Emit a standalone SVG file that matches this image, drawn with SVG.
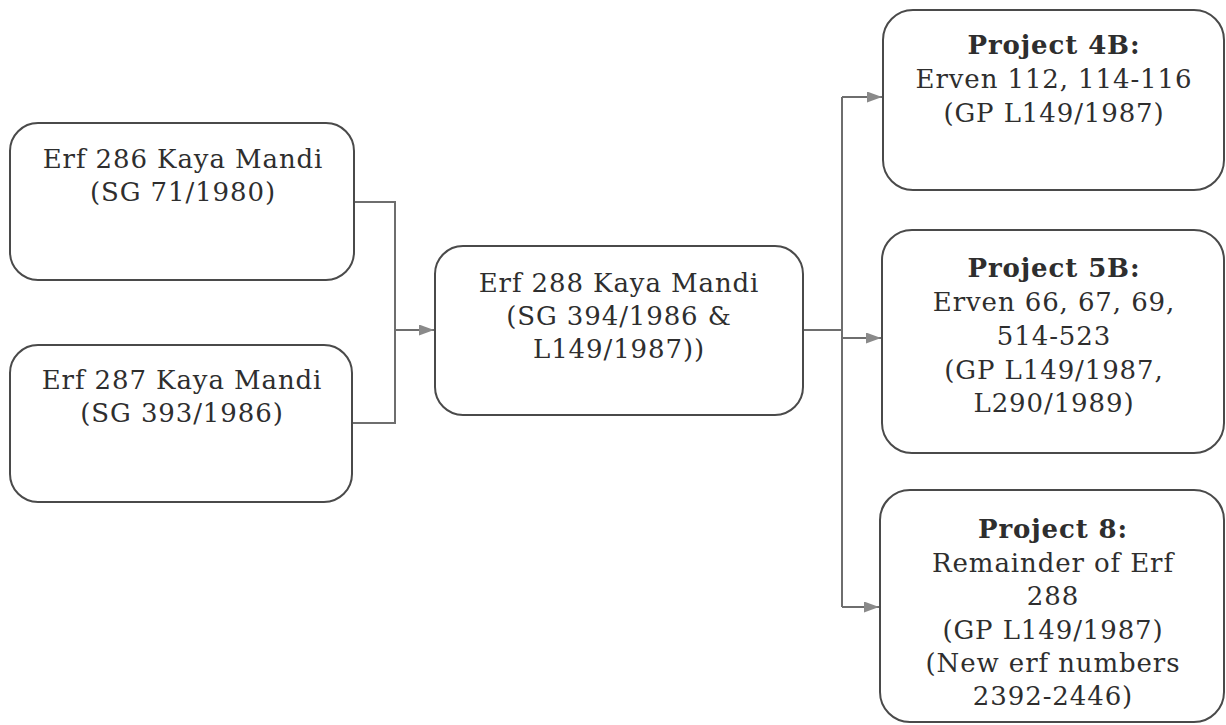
<svg xmlns="http://www.w3.org/2000/svg" width="1226" height="725" viewBox="0 0 1226 725">
<defs>
<marker id="arr" viewBox="0 0 15 11" refX="15" refY="5.5" markerWidth="15" markerHeight="11" markerUnits="userSpaceOnUse" orient="auto">
<path d="M0,0 L15,5.5 L0,11 Z" fill="#8a8a8a"/>
</marker>
<style>
.box{fill:#fff;stroke:#4a4a4a;stroke-width:2}
.t{font-family:"DejaVu Serif","Liberation Serif",serif;font-size:26px;fill:#2e2e2e;text-anchor:middle;letter-spacing:0.9px}
.b{font-weight:bold}
.c{fill:none;stroke:#6e6e6e;stroke-width:2}
</style>
</defs>
<rect width="1226" height="725" fill="#fff"/>
<g id="connectors">
<path class="c" d="M354,202 H395 V423 H352"/>
<path class="c" d="M395,330 H434" marker-end="url(#arr)"/>
<path class="c" d="M803,330 H842"/>
<path class="c" d="M842,97 V607"/>
<path class="c" d="M842,97 H882" marker-end="url(#arr)"/>
<path class="c" d="M842,338 H881" marker-end="url(#arr)"/>
<path class="c" d="M842,607 H879" marker-end="url(#arr)"/>
</g>
<g id="erf286">
<rect class="box" x="10" y="123" width="344" height="157" rx="28"/>
<text class="t" x="183" y="168">Erf 286 Kaya Mandi</text>
<text class="t" x="183" y="201">(SG 71/1980)</text>
</g>
<g id="erf287">
<rect class="box" x="10" y="345" width="342" height="157" rx="28"/>
<text class="t" x="182" y="389">Erf 287 Kaya Mandi</text>
<text class="t" x="182" y="422">(SG 393/1986)</text>
</g>
<g id="erf288">
<rect class="box" x="435" y="246" width="368" height="169" rx="28"/>
<text class="t" x="619" y="292">Erf 288 Kaya Mandi</text>
<text class="t" x="619" y="325">(SG 394/1986 &amp;</text>
<text class="t" x="619" y="358">L149/1987))</text>
</g>
<g id="project4b">
<rect class="box" x="883" y="10" width="341" height="180" rx="30"/>
<text class="t b" x="1054" y="54">Project 4B:</text>
<text class="t" x="1054" y="88">Erven 112, 114-116</text>
<text class="t" x="1054" y="122">(GP L149/1987)</text>
</g>
<g id="project5b">
<rect class="box" x="882" y="230" width="342" height="223" rx="30"/>
<text class="t b" x="1054" y="277">Project 5B:</text>
<text class="t" x="1054" y="311">Erven 66, 67, 69,</text>
<text class="t" x="1054" y="345">514-523</text>
<text class="t" x="1054" y="379">(GP L149/1987,</text>
<text class="t" x="1054" y="412">L290/1989)</text>
</g>
<g id="project8">
<rect class="box" x="880" y="490" width="344" height="232" rx="30"/>
<text class="t b" x="1053" y="538">Project 8:</text>
<text class="t" x="1053" y="572">Remainder of Erf</text>
<text class="t" x="1053" y="605">288</text>
<text class="t" x="1053" y="639">(GP L149/1987)</text>
<text class="t" x="1053" y="672">(New erf numbers</text>
<text class="t" x="1053" y="705">2392-2446)</text>
</g>
</svg>
